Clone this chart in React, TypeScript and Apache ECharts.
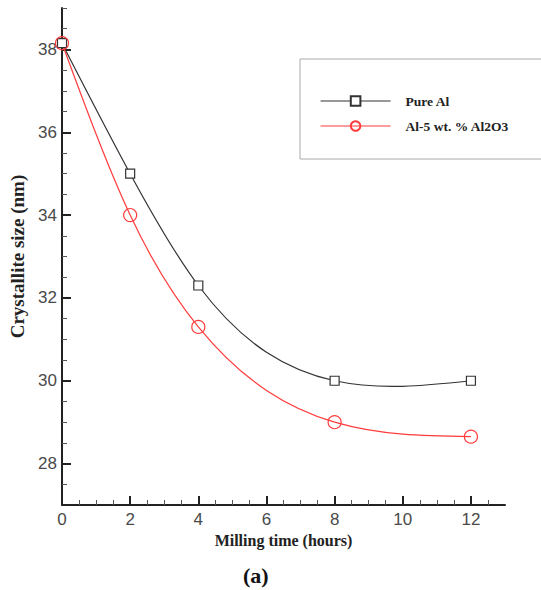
import React, { useEffect, useRef } from "react";
import * as echarts from "echarts";

const millingHours = [0, 2, 4, 8, 12];
const pureAl = [38.15, 35.0, 32.3, 30.0, 30.0];
const alComposite = [38.15, 34.0, 31.3, 29.0, 28.65];
const seriesNames = ["Pure Al", "Al-5 wt. % Al2O3"];
const seriesColors = ["#333333", "#ff3b3b"];

const xMajorTicks = [0, 2, 4, 6, 8, 10, 12];
const xMinorTicks = [0.5, 1, 1.5, 2.5, 3, 3.5, 4.5, 5, 5.5, 6.5, 7, 7.5, 8.5, 9, 9.5, 10.5, 11, 11.5, 12.5];
const yMajorTicks = [28, 30, 32, 34, 36, 38];
const yMinorTicks = [27.5, 28.5, 29, 29.5, 30.5, 31, 31.5, 32.5, 33, 33.5, 34.5, 35, 35.5, 36.5, 37, 37.5, 38.5, 39];

// natural cubic spline slopes at each knot
function splineSlopes(xs: number[], ys: number[]): number[] {
  const n = xs.length;
  const h: number[] = [];
  for (let i = 0; i < n - 1; i++) h.push(xs[i + 1] - xs[i]);
  const M = new Array(n).fill(0);
  if (n > 2) {
    const a: number[] = [], b: number[] = [], c: number[] = [], d: number[] = [];
    for (let i = 1; i < n - 1; i++) {
      a.push(h[i - 1]);
      b.push(2 * (h[i - 1] + h[i]));
      c.push(h[i]);
      d.push(6 * ((ys[i + 1] - ys[i]) / h[i] - (ys[i] - ys[i - 1]) / h[i - 1]));
    }
    const m = b.length;
    for (let i = 1; i < m; i++) {
      const w = a[i] / b[i - 1];
      b[i] -= w * c[i - 1];
      d[i] -= w * d[i - 1];
    }
    const sol = new Array(m).fill(0);
    sol[m - 1] = d[m - 1] / b[m - 1];
    for (let i = m - 2; i >= 0; i--) sol[i] = (d[i] - c[i] * sol[i + 1]) / b[i];
    for (let i = 0; i < m; i++) M[i + 1] = sol[i];
  }
  const slopes: number[] = [];
  for (let i = 0; i < n - 1; i++) {
    slopes.push((ys[i + 1] - ys[i]) / h[i] - (h[i] * (2 * M[i] + M[i + 1])) / 6);
  }
  slopes.push((ys[n - 1] - ys[n - 2]) / h[n - 2] + (h[n - 2] * (M[n - 2] + 2 * M[n - 1])) / 6);
  return slopes;
}

function splineSeries(ys: number[], color: string, id: string) {
  const slopes = splineSlopes(millingHours, ys);
  return {
    id,
    type: "custom",
    silent: true,
    z: 2,
    data: millingHours.map((h, i) => [h, ys[i]]),
    renderItem: (params: any, api: any) => {
      const i = params.dataIndex;
      if (i >= millingHours.length - 1) return null;
      const x0 = millingHours[i];
      const x1 = millingHours[i + 1];
      const dx = (x1 - x0) / 3;
      const p0 = api.coord([x0, ys[i]]);
      const c0 = api.coord([x0 + dx, ys[i] + slopes[i] * dx]);
      const c1 = api.coord([x1 - dx, ys[i + 1] - slopes[i + 1] * dx]);
      const p1 = api.coord([x1, ys[i + 1]]);
      return {
        type: "bezierCurve",
        shape: { x1: p0[0], y1: p0[1], cpx1: c0[0], cpy1: c0[1], cpx2: c1[0], cpy2: c1[1], x2: p1[0], y2: p1[1] },
        style: { stroke: color, lineWidth: 1.2, fill: "none" },
      };
    },
  };
}

export default function App() {
  const ref = useRef<HTMLDivElement>(null);
  useEffect(() => {
    if (!ref.current) return;
    const chart = echarts.init(ref.current, undefined, { renderer: "svg" });
    const serif = "Liberation Serif";
    const sans = "Liberation Sans";
    const axisColor = "#222";
    const labelStyle = { fontFamily: sans, fontSize: 17, color: "#4a4a4a" };
    const nameStyle = { fontFamily: serif, fontWeight: "bold", color: "#222" };
    chart.setOption({
      animation: false,
      backgroundColor: "#fff",
      grid: { left: 58, right: 36, top: 8, bottom: 85 },
      legend: {
        left: 300,
        top: 59,
        orient: "vertical",
        backgroundColor: "#fff",
        borderColor: "#aaa",
        borderWidth: 1,
        padding: [35, 60, 26, 20],
        itemWidth: 70,
        itemHeight: 12,
        itemGap: 11,
        textStyle: { fontFamily: serif, fontWeight: "bold", fontSize: 13.5, color: "#222", padding: [0, 0, 0, 10] },
        data: seriesNames.map((name, i) => ({
          name,
          lineStyle: { color: seriesColors[i], width: 1.2, opacity: 1 },
        })),
      },
      xAxis: [
        {
          type: "value",
          min: 0,
          max: 13,
          name: "Milling time (hours)",
          nameLocation: "middle",
          nameGap: 27,
          nameTextStyle: { ...nameStyle, fontSize: 16 },
          axisLine: { show: true, onZero: false, lineStyle: { color: axisColor, width: 2 } },
          axisTick: { show: true, inside: true, length: 9, customValues: xMajorTicks, lineStyle: { color: axisColor, width: 2 } },
          axisLabel: { ...labelStyle, margin: 6, customValues: xMajorTicks },
          splitLine: { show: false },
        },
        {
          type: "value",
          min: 0,
          max: 13,
          position: "bottom",
          axisLine: { show: false },
          axisTick: { show: true, inside: true, length: 5, customValues: xMinorTicks, lineStyle: { color: "#555", width: 1 } },
          axisLabel: { show: false },
          splitLine: { show: false },
        },
      ],
      yAxis: [
        {
          type: "value",
          min: 27,
          max: 39,
          name: "Crystallite size (nm)",
          nameLocation: "middle",
          nameGap: 35,
          nameTextStyle: { ...nameStyle, fontSize: 19 },
          axisLine: { show: true, onZero: false, lineStyle: { color: axisColor, width: 2 } },
          axisTick: { show: true, inside: true, length: 9, customValues: yMajorTicks, lineStyle: { color: axisColor, width: 2 } },
          axisLabel: { ...labelStyle, margin: 5, customValues: yMajorTicks },
          splitLine: { show: false },
        },
        {
          type: "value",
          min: 27,
          max: 39,
          position: "left",
          axisLine: { show: false },
          axisTick: { show: true, inside: true, length: 5, customValues: yMinorTicks, lineStyle: { color: "#555", width: 1 } },
          axisLabel: { show: false },
          splitLine: { show: false },
        },
      ],
      series: [
        splineSeries(pureAl, seriesColors[0], "pureAlCurve"),
        splineSeries(alComposite, seriesColors[1], "compositeCurve"),
        {
          name: seriesNames[0],
          type: "line",
          data: millingHours.map((h, i) => [h, pureAl[i]]),
          symbol: "rect",
          symbolSize: 9,
          lineStyle: { color: seriesColors[0], width: 1.2, opacity: 0 },
          itemStyle: { color: "#fff", borderColor: seriesColors[0], borderWidth: 1.2 },
          z: 3,
        },
        {
          name: seriesNames[1],
          type: "line",
          data: millingHours.map((h, i) => [h, alComposite[i]]),
          symbol: "circle",
          symbolSize: 13,
          lineStyle: { color: seriesColors[1], width: 1.2, opacity: 0 },
          itemStyle: { color: "rgba(255,255,255,0)", borderColor: seriesColors[1], borderWidth: 1.2 },
          z: 4,
        },
      ],
      graphic: [
        {
          type: "text",
          left: 243,
          top: 564,
          style: { text: "(a)", fontFamily: serif, fontWeight: "bold", fontSize: 22, fill: "#111" },
        },
      ],
    });
    return () => chart.dispose();
  }, []);
  return <div ref={ref} style={{ width: 541, height: 590, position: "absolute", left: 0, top: 0 }} />;
}
